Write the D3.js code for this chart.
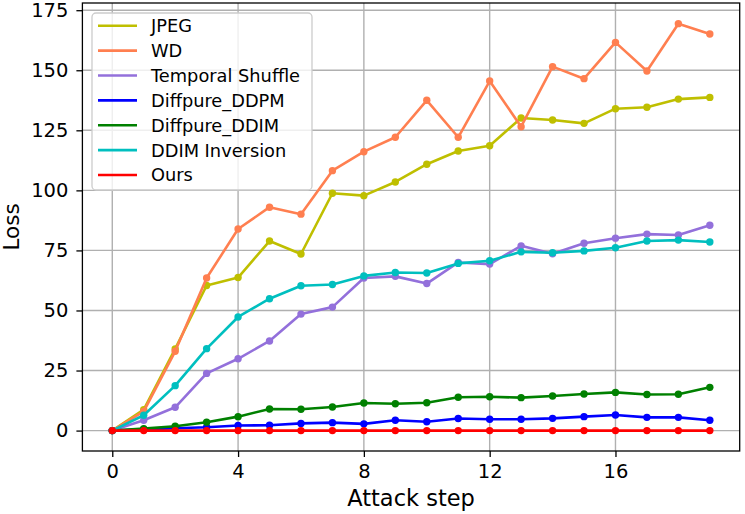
<!DOCTYPE html>
<html>
<head>
<meta charset="utf-8">
<script src="https://cdn.jsdelivr.net/npm/d3@7"></script>
<style>
  body { margin: 0; background: #fff; }
  svg { font-family: "DejaVu Sans", sans-serif; display: block; }
</style>
</head>
<body>
<svg class="chart"></svg>
<script>
var steps = d3.range(0, 20);
var seriesNames = ["JPEG", "WD", "Temporal Shuffle", "Diffpure_DDPM", "Diffpure_DDIM", "DDIM Inversion", "Ours"];
var seriesColors = ["#bfbf00", "#ff7f50", "#9370db", "#0000ff", "#008000", "#00bfbf", "#ff0000"];

var jpeg = [0, 8.7, 34, 60.4, 63.7, 78.9, 73.5, 98.8, 97.8, 103.5, 110.9, 116.4, 118.6, 130.1, 129.3, 127.9, 134, 134.6, 138, 138.7];
var wd = [0, 8, 33, 63.5, 83.9, 93, 90.1, 108.2, 116.1, 122.1, 137.5, 122.1, 145.5, 126.5, 151.5, 146.5, 161.6, 149.7, 169.4, 165.1];
var temporalShuffle = [0, 4.3, 9.7, 23.8, 29.9, 37.3, 48.5, 51.4, 63.5, 64.2, 61.2, 70, 69.3, 76.9, 73.6, 78, 80.1, 81.8, 81.4, 85.5];
var diffpureDDPM = [0, 0.5, 1, 1.4, 2.1, 2.2, 3, 3.3, 2.8, 4.3, 3.7, 5, 4.7, 4.7, 5.1, 5.8, 6.5, 5.5, 5.5, 4.3];
var diffpureDDIM = [0, 0.8, 1.8, 3.5, 5.8, 9, 8.9, 9.8, 11.5, 11.2, 11.6, 13.9, 14.1, 13.7, 14.4, 15.2, 15.9, 15, 15.1, 18];
var ddimInversion = [0, 6.4, 18.7, 34.1, 47.3, 54.9, 60.3, 60.8, 64.4, 65.8, 65.6, 69.6, 70.7, 74.4, 74, 74.8, 76.1, 78.9, 79.3, 78.5];
var ours = [0, 0, 0, 0, 0, 0, 0, 0, 0, 0, 0, 0, 0, 0, 0, 0, 0, 0, 0, 0];

var xTicks = [0, 4, 8, 12, 16];
var yTicks = [0, 25, 50, 75, 100, 125, 150, 175];

var allSeries = [jpeg, wd, temporalShuffle, diffpureDDPM, diffpureDDIM, ddimInversion, ours];

var outerSize = {width: 745, height: 514};
var box = {left: 82.4, right: 739.7, top: 3, bottom: 451};

var svg = d3.select(".chart")
        .attr("width", outerSize.width)
        .attr("height", outerSize.height);

var xRange = d3.scaleLinear().domain([-0.95, 19.95]).range([box.left, box.right]);
var yRange = d3.scaleLinear().domain([-8.5, 178]).range([box.bottom, box.top]);

// grid
svg.append("g").selectAll("line").data(xTicks).enter().append("line")
        .attr("x1", function (d) { return xRange(d); })
        .attr("x2", function (d) { return xRange(d); })
        .attr("y1", box.top).attr("y2", box.bottom)
        .attr("stroke", "#b0b0b0").attr("stroke-width", 1.4);
svg.append("g").selectAll("line").data(yTicks).enter().append("line")
        .attr("y1", function (d) { return yRange(d); })
        .attr("y2", function (d) { return yRange(d); })
        .attr("x1", box.left).attr("x2", box.right)
        .attr("stroke", "#b0b0b0").attr("stroke-width", 1.4);

// lines + markers
var line = d3.line()
        .x(function (d, i) { return xRange(steps[i]); })
        .y(function (d) { return yRange(d); });

allSeries.forEach(function (values, k) {
    var g = svg.append("g");
    g.append("path")
            .attr("d", line(values))
            .attr("fill", "none")
            .attr("stroke", seriesColors[k])
            .attr("stroke-width", 2.6)
            .attr("stroke-linejoin", "round");
    g.selectAll("circle").data(values).enter().append("circle")
            .attr("cx", function (d, i) { return xRange(steps[i]); })
            .attr("cy", function (d) { return yRange(d); })
            .attr("r", 3.7)
            .attr("fill", seriesColors[k]);
});

// axes
var xAxis = svg.append("g")
        .attr("transform", "translate(0," + box.bottom + ")")
        .call(d3.axisBottom(xRange).tickValues(xTicks).tickSize(6).tickPadding(7).tickFormat(d3.format("d")));
var yAxis = svg.append("g")
        .attr("transform", "translate(" + box.left + ",0)")
        .call(d3.axisLeft(yRange).tickValues(yTicks).tickSize(6).tickPadding(8).tickFormat(d3.format("d")));
[xAxis, yAxis].forEach(function (a) {
    a.select(".domain").remove();
    a.selectAll(".tick line").attr("stroke", "#000").attr("stroke-width", 1.3);
    a.selectAll(".tick text").attr("fill", "#000").style("font-size", "19.5px")
            .style("font-family", "DejaVu Sans, sans-serif");
});

svg.append("rect")
        .attr("x", box.left).attr("y", box.top)
        .attr("width", box.right - box.left).attr("height", box.bottom - box.top)
        .attr("fill", "none").attr("stroke", "#000").attr("stroke-width", 1.3);

svg.append("text")
        .attr("x", (box.left + box.right) / 2).attr("y", 505.5)
        .attr("text-anchor", "middle")
        .style("font-size", "22.5px")
        .text("Attack step");
svg.append("text")
        .attr("transform", "translate(19," + ((box.top + box.bottom) / 2) + ") rotate(-90)")
        .attr("text-anchor", "middle")
        .style("font-size", "21.5px")
        .text("Loss");

// legend
var legend = svg.append("g");
legend.append("rect")
        .attr("x", 92).attr("y", 13).attr("width", 220).attr("height", 177)
        .attr("rx", 4)
        .attr("fill", "#fff").attr("fill-opacity", 0.8)
        .attr("stroke", "#cccccc").attr("stroke-width", 1.3);
var rows = legend.selectAll(".row").data(seriesNames).enter().append("g")
        .attr("transform", function (d, i) { return "translate(0," + (25.7 + i * 24.88) + ")"; });
rows.append("line")
        .attr("x1", 98).attr("x2", 137)
        .attr("stroke", function (d, i) { return seriesColors[i]; })
        .attr("stroke-width", 2.6);
rows.append("text")
        .attr("x", 151).attr("dy", "0.36em")
        .style("font-size", "17.8px")
        .text(function (d) { return d; });
</script>
</body>
</html>
